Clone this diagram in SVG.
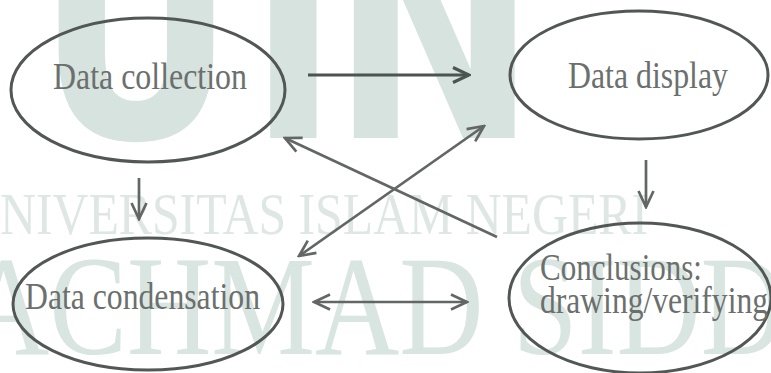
<svg xmlns="http://www.w3.org/2000/svg" width="771" height="373" viewBox="0 0 771 373">
<style>
.wm{font-family:"Liberation Serif","Times New Roman",serif;}
.wmb{font-family:"DejaVu Sans",sans-serif;font-weight:bold;fill:#d6e3de;}
.node ellipse{fill:none;stroke:#525755;stroke-width:3;}
.node text{font-family:"Liberation Serif","Times New Roman",serif;font-size:37px;fill:#6b6f6d;}
.conn line{fill:none;stroke:#626664;stroke-width:2.7;}
</style>
<defs>
<marker id="ah" viewBox="0 0 20 18" refX="18" refY="9" markerWidth="20" markerHeight="18" markerUnits="userSpaceOnUse" orient="auto-start-reverse">
<path d="M2,1.5 L18,9 L2,16.5" fill="none" stroke="#626664" stroke-width="2.7"/>
</marker>
<marker id="ahd" viewBox="0 0 20 18" refX="18" refY="9" markerWidth="20" markerHeight="18" markerUnits="userSpaceOnUse" orient="auto-start-reverse">
<path d="M2,1.5 L18,9 L2,16.5" fill="none" stroke="#4b5451" stroke-width="3.2"/>
</marker>
</defs>
<rect width="771" height="373" fill="#ffffff"/>
<g id="watermark">
<g transform="scale(0.82,1)">
<text class="wmb" x="44" y="138" font-size="300">U</text>
<text class="wmb" x="302" y="138" font-size="300">I</text>
<text class="wmb" x="404" y="138" font-size="300">N</text>
</g>
<text class="wm" x="0" y="234" font-size="60" fill="#dfe7e4" textLength="648" lengthAdjust="spacingAndGlyphs">NIVERSITAS ISLAM NEGERI</text>
<text class="wm" x="-35" y="354" font-size="142" fill="#d9e5e0" textLength="820" lengthAdjust="spacingAndGlyphs">ACHMAD SIDD</text>
</g>
<g id="connectors" class="conn">
<line x1="308" y1="75" x2="469" y2="75" style="stroke:#4b5451;stroke-width:3.2" marker-end="url(#ahd)"/>
<line x1="139" y1="178" x2="139" y2="219" marker-end="url(#ah)"/>
<line x1="646" y1="160" x2="646" y2="207" marker-end="url(#ah)"/>
<line x1="497" y1="237" x2="285" y2="138" marker-end="url(#ah)"/>
<line x1="299" y1="256" x2="484" y2="126" marker-start="url(#ah)" marker-end="url(#ah)"/>
<line x1="314" y1="302" x2="467" y2="302" marker-start="url(#ah)" marker-end="url(#ah)"/>
</g>
<g id="node-collection" class="node">
<ellipse cx="148" cy="90" rx="137" ry="72"/>
<text x="53" y="89" textLength="194" lengthAdjust="spacingAndGlyphs">Data collection</text>
</g>
<g id="node-display" class="node">
<ellipse cx="639" cy="75" rx="129" ry="64"/>
<text x="568" y="88" textLength="160" lengthAdjust="spacingAndGlyphs">Data display</text>
</g>
<g id="node-condensation" class="node">
<ellipse cx="148" cy="304" rx="135" ry="66"/>
<text x="25" y="309" textLength="235" lengthAdjust="spacingAndGlyphs">Data condensation</text>
</g>
<g id="node-conclusions" class="node">
<ellipse cx="640" cy="298" rx="131" ry="75"/>
<text x="540" y="280" textLength="162" lengthAdjust="spacingAndGlyphs">Conclusions:</text>
<text x="540" y="313" textLength="228" lengthAdjust="spacingAndGlyphs">drawing/verifying</text>
</g>
</svg>
